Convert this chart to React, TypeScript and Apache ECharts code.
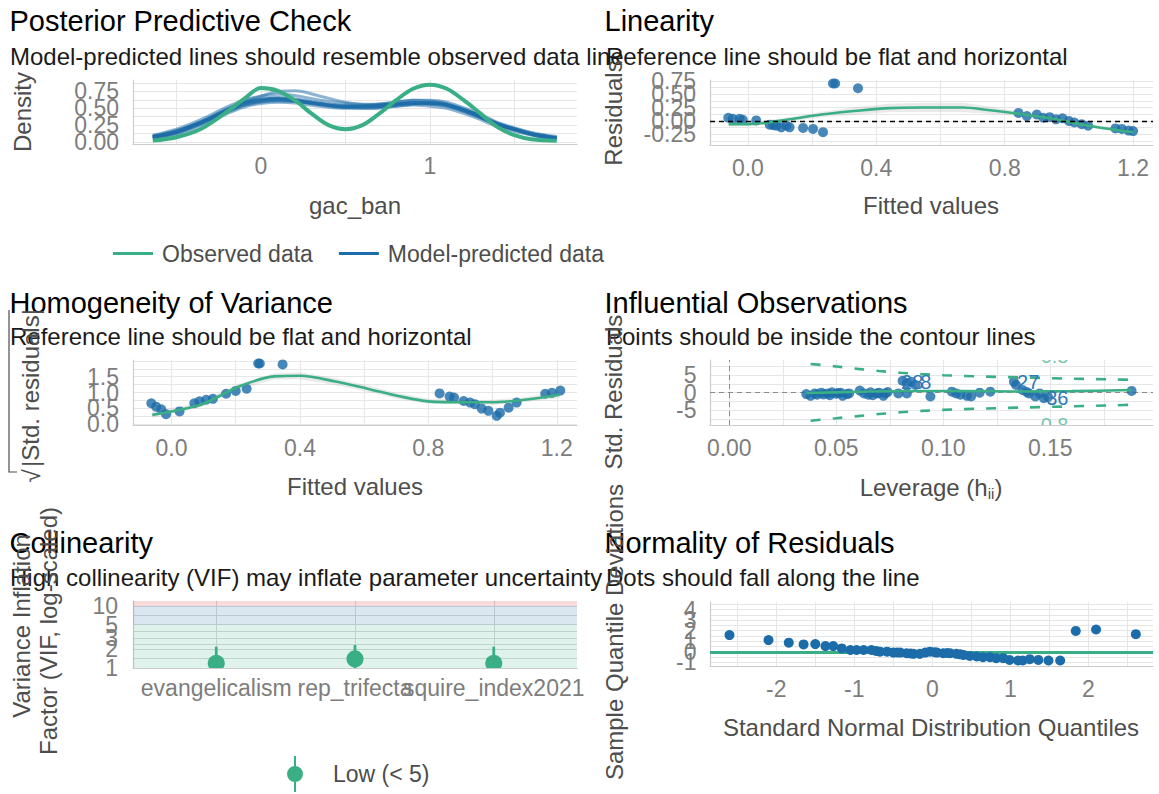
import React, { useEffect, useRef } from 'react';
import * as echarts from 'echarts';

const FONT = "'Liberation Sans', Arial, Helvetica, sans-serif";
const BLUE = '#1b6ca8';
const GREEN = '#3aaf85';
const TICK_COLOR = '#7d7d7d';
const AXIS_TITLE = '#4d4d4d';
const GRID_COLOR = '#e6e6e6';

// ---------- Posterior predictive check ----------
const ppcObsX = [-0.64, -0.5, -0.35, -0.2, -0.1, 0, 0.1, 0.2, 0.3, 0.4, 0.5, 0.6, 0.7, 0.8, 0.9, 1.0, 1.1, 1.2, 1.3, 1.4, 1.5, 1.6, 1.75];
const ppcObsDensity = [0.02, 0.07, 0.2, 0.45, 0.64, 0.8, 0.76, 0.62, 0.42, 0.25, 0.19, 0.25, 0.42, 0.62, 0.79, 0.85, 0.79, 0.62, 0.42, 0.22, 0.1, 0.04, 0.02];
const ppcSimX = [-0.64, -0.5, -0.35, -0.2, -0.1, 0, 0.1, 0.2, 0.35, 0.5, 0.65, 0.8, 0.9, 1.0, 1.1, 1.25, 1.4, 1.5, 1.62, 1.75];
const ppcSimDraws = [
  [0.10, 0.19, 0.34, 0.52, 0.62, 0.68, 0.71, 0.69, 0.62, 0.57, 0.56, 0.59, 0.62, 0.62, 0.59, 0.46, 0.29, 0.21, 0.13, 0.08],
  [0.05, 0.11, 0.25, 0.42, 0.52, 0.57, 0.59, 0.58, 0.53, 0.50, 0.50, 0.53, 0.55, 0.53, 0.50, 0.38, 0.23, 0.16, 0.09, 0.04],
  [0.08, 0.16, 0.31, 0.49, 0.59, 0.64, 0.66, 0.64, 0.58, 0.54, 0.53, 0.56, 0.58, 0.58, 0.55, 0.43, 0.27, 0.19, 0.11, 0.06],
  [0.06, 0.13, 0.28, 0.45, 0.55, 0.60, 0.62, 0.61, 0.56, 0.53, 0.54, 0.57, 0.59, 0.57, 0.54, 0.41, 0.25, 0.18, 0.10, 0.05],
  [0.09, 0.17, 0.30, 0.47, 0.58, 0.63, 0.65, 0.63, 0.57, 0.52, 0.52, 0.55, 0.57, 0.57, 0.55, 0.43, 0.26, 0.18, 0.10, 0.05],
  [0.07, 0.15, 0.30, 0.48, 0.60, 0.68, 0.75, 0.76, 0.68, 0.59, 0.55, 0.56, 0.57, 0.56, 0.53, 0.41, 0.26, 0.19, 0.11, 0.06],
  [0.08, 0.14, 0.27, 0.44, 0.54, 0.59, 0.61, 0.60, 0.56, 0.52, 0.55, 0.59, 0.62, 0.61, 0.57, 0.44, 0.27, 0.19, 0.11, 0.06],
  [0.06, 0.14, 0.29, 0.48, 0.58, 0.63, 0.64, 0.61, 0.55, 0.51, 0.50, 0.53, 0.56, 0.57, 0.55, 0.44, 0.28, 0.20, 0.12, 0.07],
  [0.07, 0.15, 0.29, 0.46, 0.56, 0.61, 0.63, 0.62, 0.57, 0.53, 0.52, 0.55, 0.58, 0.59, 0.56, 0.42, 0.26, 0.18, 0.10, 0.05],
  [0.08, 0.16, 0.30, 0.47, 0.57, 0.62, 0.64, 0.62, 0.56, 0.52, 0.53, 0.56, 0.58, 0.58, 0.55, 0.43, 0.27, 0.19, 0.11, 0.06],
];
const ppcXLines = [-0.5, 0, 0.5, 1, 1.5];
const ppcXTicks = [0, 1];
const ppcYLines = [0, 0.125, 0.25, 0.375, 0.5, 0.625, 0.75, 0.875];
const ppcYTicks = [0, 0.25, 0.5, 0.75];

// ---------- Linearity ----------
const linFitted = [-0.061, -0.047, -0.026, -0.016, 0.026, 0.068, 0.079, 0.089, 0.104, 0.12, 0.13, 0.172, 0.203, 0.234, 0.265, 0.272, 0.343, 0.843, 0.869, 0.9, 0.92, 0.94, 0.96, 0.98, 1.0, 1.017, 1.04, 1.06, 1.145, 1.165, 1.186, 1.2];
const linResid = [0.06, 0.04, 0.04, 0.02, 0.01, -0.07, -0.08, -0.09, -0.12, -0.09, -0.12, -0.13, -0.15, -0.21, 0.7, 0.7, 0.61, 0.15, 0.09, 0.12, 0.06, 0.07, 0.03, 0.05, 0.0, -0.03, -0.06, -0.09, -0.14, -0.15, -0.18, -0.19];
const linSmoothX = [-0.06, 0.03, 0.13, 0.23, 0.34, 0.44, 0.54, 0.67, 0.74, 0.85, 0.96, 1.06, 1.2];
const linSmoothY = [-0.06, -0.05, 0.03, 0.12, 0.19, 0.24, 0.25, 0.25, 0.21, 0.13, 0.03, -0.09, -0.21];
const linSmoothLo = [-0.11, -0.09, -0.01, 0.07, 0.12, 0.16, 0.16, 0.16, 0.14, 0.09, 0.0, -0.12, -0.26];
const linSmoothHi = [-0.01, -0.01, 0.07, 0.17, 0.26, 0.32, 0.34, 0.34, 0.28, 0.17, 0.06, -0.06, -0.16];
const fittedLines = [0, 0.2, 0.4, 0.6, 0.8, 1.0, 1.2];
const fittedTicks = [0, 0.4, 0.8, 1.2];
const residLines = [-0.375, -0.25, -0.125, 0, 0.125, 0.25, 0.375, 0.5, 0.625, 0.75];
const residTicks = [-0.25, 0, 0.25, 0.5, 0.75];

// ---------- Homogeneity of variance ----------
const homFitted = [-0.063, -0.048, -0.032, -0.017, 0.025, 0.071, 0.087, 0.108, 0.129, 0.17, 0.2, 0.234, 0.27, 0.275, 0.346, 0.835, 0.866, 0.88, 0.91, 0.93, 0.945, 0.966, 0.987, 1.013, 1.023, 1.05, 1.075, 1.164, 1.185, 1.211];
const homSqrtRes = [0.66, 0.55, 0.47, 0.31, 0.4, 0.66, 0.72, 0.77, 0.8, 0.96, 1.05, 1.12, 1.92, 1.92, 1.89, 0.97, 0.87, 0.84, 0.73, 0.68, 0.63, 0.49, 0.42, 0.26, 0.36, 0.52, 0.68, 0.96, 0.99, 1.06];
const homSmoothX = [-0.06, 0.09, 0.21, 0.32, 0.4, 0.51, 0.61, 0.71, 0.8, 0.92, 1.0, 1.1, 1.21];
const homSmoothY = [0.29, 0.61, 1.19, 1.51, 1.53, 1.35, 1.12, 0.88, 0.72, 0.69, 0.69, 0.77, 0.93];
const homSmoothLo = [0.19, 0.53, 1.1, 1.41, 1.42, 1.24, 1.02, 0.79, 0.64, 0.62, 0.61, 0.69, 0.83];
const homSmoothHi = [0.39, 0.69, 1.28, 1.61, 1.64, 1.46, 1.22, 0.97, 0.8, 0.76, 0.77, 0.85, 1.03];
const sqrtResLines = [0, 0.25, 0.5, 0.75, 1, 1.25, 1.5, 1.75, 2];
const sqrtResTicks = [0, 0.5, 1, 1.5];

// ---------- Influential observations ----------
const infLeverage = [0.036, 0.038, 0.040, 0.041, 0.043, 0.044, 0.046, 0.047, 0.048, 0.050, 0.051, 0.052, 0.053, 0.055, 0.056, 0.061, 0.063, 0.065, 0.066, 0.067, 0.069, 0.070, 0.072, 0.073, 0.074, 0.079, 0.081, 0.083, 0.083, 0.085, 0.087, 0.094, 0.104, 0.106, 0.108, 0.111, 0.113, 0.117, 0.122, 0.133, 0.134, 0.137, 0.139, 0.140, 0.143, 0.145, 0.147, 0.149, 0.188];
const infStdRes = [-0.4, -0.9, -0.2, -0.6, 0.0, -0.5, -0.2, -0.7, 0.1, -0.3, -0.1, 0.0, -0.9, -0.4, -0.2, 0.6, -0.2, -0.6, 0.1, -0.7, -0.2, 0.0, -0.9, -0.2, 0.2, -0.2, 3.4, 2.7, -0.2, 3.1, 2.2, -1.1, 0.3, -0.2, -0.6, -0.9, -1.1, 0.0, 0.3, 3.1, 2.2, 0.8, 0.2, -0.2, -1.1, -0.2, -1.6, -1.2, 0.5];
const infSmoothX = [0.036, 0.06, 0.083, 0.11, 0.134, 0.16, 0.188];
const infSmoothY = [-0.1, 0.25, 0.5, 0.45, 0.35, 0.45, 0.75];
const cookLev = [0.038, 0.05, 0.06, 0.07, 0.08, 0.09, 0.10, 0.12, 0.14, 0.16, 0.18, 0.19];
const cookUpper = [8.2, 7.5, 6.8, 6.2, 5.7, 5.3, 5.0, 4.6, 4.3, 4.0, 3.8, 3.6];
const cookLower = [-8.0, -7.3, -6.7, -6.1, -5.6, -5.2, -4.9, -4.5, -4.2, -3.9, -3.6, -3.4];
const cookLabelLev = [0.152, 0.152];
const cookLabelRes = [10.5, -9.3];
const cookLabelText = ['0.8', '0.8'];
const outlierIds = ['28', '8', '27', '36'];
const outlierLev = [0.0855, 0.0918, 0.1397, 0.1533];
const outlierRes = [3.06, 3.06, 3.14, -1.6];
const levLines = [0, 0.025, 0.05, 0.075, 0.1, 0.125, 0.15, 0.175];
const levTicks = [0, 0.05, 0.1, 0.15];
const stdResLines = [-7.5, -5, -2.5, 0, 2.5, 5, 7.5];
const stdResTicks = [-5, 0, 5];

// ---------- Collinearity ----------
const vifTerms = ['evangelicalism', 'rep_trifecta', 'squire_index2021'];
const vifValue = [1.19, 1.4, 1.19];
const vifLow = [1.0, 1.0, 1.0];
const vifHigh = [2.21, 2.35, 2.21];
const vifZoneEdges = [1, 5, 10, 12.05];
const vifLines = [1.414, 2, 2.449, 3, 3.873, 5, 7.071, 10];
const vifTicks = [1, 2, 3, 5, 10];

// ---------- Normality of residuals (detrended QQ) ----------
const qqTheoretical = [-2.6, -2.1, -1.84, -1.65, -1.5, -1.37, -1.27, -1.16, -1.05, -0.97, -0.88, -0.78, -0.72, -0.67, -0.58, -0.5, -0.45, -0.41, -0.33, -0.28, -0.24, -0.16, -0.09, -0.03, 0.03, 0.06, 0.14, 0.19, 0.23, 0.31, 0.36, 0.4, 0.48, 0.57, 0.65, 0.74, 0.82, 0.91, 0.99, 1.1, 1.16, 1.25, 1.36, 1.49, 1.64, 1.84, 2.1, 2.61];
const qqDeviation = [1.58, 1.11, 0.86, 0.7, 0.73, 0.54, 0.54, 0.32, 0.17, 0.17, 0.17, 0.17, 0.08, 0.01, 0.01, -0.08, -0.06, -0.08, -0.14, -0.16, -0.2, -0.2, -0.08, 0.01, -0.05, -0.08, -0.14, -0.12, -0.14, -0.2, -0.24, -0.3, -0.39, -0.45, -0.51, -0.51, -0.61, -0.61, -0.77, -0.83, -0.83, -0.7, -0.77, -0.83, -0.83, 1.98, 2.11, 1.67];
const qqXLines = [-2.5, -2, -1.5, -1, -0.5, 0, 0.5, 1, 1.5, 2, 2.5];
const qqXTicks = [-2, -1, 0, 1, 2];
const qqYLines = [-1, -0.5, 0, 0.5, 1, 1.5, 2, 2.5, 3, 3.5, 4, 4.5];
const qqYTicks = [-1, 0, 1, 2, 3, 4];

// Axis limits of the six panels
const panelX = [[-0.757, 1.87], [-0.118, 1.262], [-0.12, 1.263], [-0.009, 0.198], [-0.6, 2.6], [-2.85, 2.83]];
const panelY = [[-0.03, 0.92], [-0.45, 0.765], [-0.03, 2.03], [-9.23, 9.34], [0, Math.log10(12.05)], [-1.35, 4.72]];

const pairs = (xs: number[], ys: number[]) => xs.map((x, i) => [x, ys[i]]);
const log10 = (v: number) => Math.log10(v);

function valueAxis(gridIndex: number, range: number[], lines: number[], gridColor = GRID_COLOR) {
  return {
    type: 'value',
    gridIndex,
    min: range[0],
    max: range[1],
    axisLine: { show: true, onZero: false, lineStyle: { color: '#cccccc', width: 1.2 } },
    axisTick: { show: false, customValues: lines },
    splitLine: { show: true, lineStyle: { color: gridColor, width: 1 } },
    minorSplitLine: { show: false },
    axisLabel: { show: false },
  };
}

// Tick labels are placed through each panel's scale so overlapping labels all stay visible.
function tickLabels(idx: number, values: number[], fmt: (v: number) => string, isY: boolean, offset: number) {
  return {
    type: 'custom',
    xAxisIndex: idx,
    yAxisIndex: idx,
    silent: true,
    clip: false,
    z: 8,
    data: values.map((v) => (isY ? [panelX[idx][0], v] : [v, panelY[idx][0]])),
    renderItem: (_p: any, api: any) => {
      const pt = api.coord([api.value(0), api.value(1)]);
      const v = isY ? api.value(1) : api.value(0);
      return {
        type: 'text',
        x: isY ? pt[0] - offset : pt[0],
        y: isY ? pt[1] : pt[1] + offset,
        style: {
          text: fmt(v),
          font: `23px ${FONT}`,
          fill: TICK_COLOR,
          align: isY ? 'right' : 'center',
          verticalAlign: 'middle',
          textAlign: isY ? 'right' : 'center',
          textVerticalAlign: 'middle',
        },
      };
    },
  };
}

function ribbon(idx: number, xs: number[], lo: number[], hi: number[], fill: string) {
  return {
    type: 'custom',
    xAxisIndex: idx,
    yAxisIndex: idx,
    silent: true,
    clip: true,
    z: 1,
    data: [[xs[0], lo[0]]],
    renderItem: (_p: any, api: any) => {
      const top = xs.map((x, i) => api.coord([x, hi[i]]));
      const bottom = xs.map((x, i) => api.coord([x, lo[i]])).reverse();
      return { type: 'polygon', shape: { points: top.concat(bottom) }, style: { fill } };
    },
  };
}

function textLabels(idx: number, xs: number[], ys: number[], texts: string[], size: number, color: string, opacity: number, clip: boolean) {
  return {
    type: 'custom',
    xAxisIndex: idx,
    yAxisIndex: idx,
    silent: true,
    clip,
    z: 6,
    data: xs.map((x, i) => [x, ys[i], i]),
    renderItem: (_p: any, api: any) => {
      const pt = api.coord([api.value(0), api.value(1)]);
      return {
        type: 'text',
        x: pt[0],
        y: pt[1],
        style: {
          text: texts[api.value(2)],
          font: `${size}px ${FONT}`,
          fill: color,
          opacity,
          align: 'center',
          verticalAlign: 'middle',
          textAlign: 'center',
          textVerticalAlign: 'middle',
        },
      };
    },
  };
}

function label(text: string, x: number, y: number, size: number, color: string, align: string, rotate = false, extra: any = {}) {
  return {
    type: 'text',
    x,
    y,
    rotation: rotate ? Math.PI / 2 : 0,
    silent: true,
    z: 100,
    style: {
      text,
      font: `${size}px ${FONT}`,
      fill: color,
      align,
      verticalAlign: 'middle',
      textAlign: align,
      textVerticalAlign: 'middle',
      ...extra,
    },
  };
}

function buildOption() {
  const grids = [
    { left: 133, top: 80, width: 444, height: 64 },
    { left: 710, top: 80, width: 443, height: 65 },
    { left: 133, top: 360, width: 444, height: 65 },
    { left: 710, top: 360, width: 443, height: 65 },
    { left: 133, top: 601, width: 444, height: 67 },
    { left: 710, top: 602, width: 443, height: 64 },
  ].map((g) => ({ ...g, show: false, containLabel: false, outerBoundsMode: 'none' }));

  const f0 = (v: number) => String(Math.round(v));
  const f1 = (v: number) => v.toFixed(1);
  const f2 = (v: number) => v.toFixed(2);

  const xAxis = [
    valueAxis(0, panelX[0], ppcXLines),
    valueAxis(1, panelX[1], fittedLines),
    valueAxis(2, panelX[2], fittedLines),
    valueAxis(3, panelX[3], levLines),
    valueAxis(4, panelX[4], [0, 1, 2], '#d9d9d9'),
    valueAxis(5, panelX[5], qqXLines),
  ];
  const yAxis = [
    valueAxis(0, panelY[0], ppcYLines),
    valueAxis(1, panelY[1], residLines),
    valueAxis(2, panelY[2], sqrtResLines),
    valueAxis(3, panelY[3], stdResLines),
    valueAxis(4, panelY[4], vifLines.map(log10), '#d9d9d9'),
    valueAxis(5, panelY[5], qqYLines),
  ];

  const series: any[] = [];

  // 1. Posterior predictive check
  ppcSimDraws.forEach((draw) => {
    series.push({
      type: 'line',
      name: 'Model-predicted data',
      xAxisIndex: 0,
      yAxisIndex: 0,
      data: pairs(ppcSimX, draw),
      smooth: 0.35,
      showSymbol: false,
      silent: true,
      color: BLUE,
      lineStyle: { color: BLUE, width: 3, opacity: 0.5 },
      z: 2,
    });
  });
  series.push({
    type: 'line',
    name: 'Observed data',
    xAxisIndex: 0,
    yAxisIndex: 0,
    data: pairs(ppcObsX, ppcObsDensity),
    smooth: 0.35,
    showSymbol: false,
    silent: true,
    color: GREEN,
    lineStyle: { color: GREEN, width: 4 },
    z: 3,
  });
  series.push(tickLabels(0, ppcXTicks, f0, false, 22));
  series.push(tickLabels(0, ppcYTicks, f2, true, 14));

  // 2. Linearity
  series.push(ribbon(1, linSmoothX, linSmoothLo, linSmoothHi, 'rgba(150,150,150,0.2)'));
  series.push({
    type: 'scatter',
    xAxisIndex: 1,
    yAxisIndex: 1,
    data: pairs(linFitted, linResid),
    symbolSize: 10,
    silent: true,
    itemStyle: { color: BLUE, opacity: 0.8 },
    z: 2,
  });
  series.push({
    type: 'line',
    xAxisIndex: 1,
    yAxisIndex: 1,
    data: pairs(linSmoothX, linSmoothY),
    smooth: 0.3,
    showSymbol: false,
    silent: true,
    lineStyle: { color: GREEN, width: 2.6 },
    z: 3,
    markLine: {
      silent: true,
      symbol: 'none',
      label: { show: false },
      lineStyle: { color: '#000', type: [5, 4], width: 1.3 },
      data: [{ yAxis: 0 }],
    },
  });
  series.push(tickLabels(1, fittedTicks, f1, false, 23));
  series.push(tickLabels(1, residTicks, f2, true, 14));

  // 3. Homogeneity of variance
  series.push(ribbon(2, homSmoothX, homSmoothLo, homSmoothHi, 'rgba(150,150,150,0.2)'));
  series.push({
    type: 'scatter',
    xAxisIndex: 2,
    yAxisIndex: 2,
    data: pairs(homFitted, homSqrtRes),
    symbolSize: 10,
    silent: true,
    itemStyle: { color: BLUE, opacity: 0.8 },
    z: 2,
  });
  series.push({
    type: 'line',
    xAxisIndex: 2,
    yAxisIndex: 2,
    data: pairs(homSmoothX, homSmoothY),
    smooth: 0.3,
    showSymbol: false,
    silent: true,
    lineStyle: { color: GREEN, width: 2.6 },
    z: 3,
  });
  series.push(tickLabels(2, fittedTicks, f1, false, 22.5));
  series.push(tickLabels(2, sqrtResTicks, f1, true, 14));

  // 4. Influential observations
  [cookUpper, cookLower].forEach((vals) => {
    series.push({
      type: 'line',
      xAxisIndex: 3,
      yAxisIndex: 3,
      data: pairs(cookLev, vals),
      smooth: 0.3,
      showSymbol: false,
      silent: true,
      lineStyle: { color: GREEN, width: 2.6, type: [10, 12] },
      z: 3,
    });
  });
  series.push({
    type: 'scatter',
    xAxisIndex: 3,
    yAxisIndex: 3,
    data: pairs(infLeverage, infStdRes),
    symbolSize: 10,
    silent: true,
    itemStyle: { color: BLUE, opacity: 0.8 },
    z: 2,
    markLine: {
      silent: true,
      z: 1,
      symbol: 'none',
      label: { show: false },
      lineStyle: { color: '#8c8c8c', type: [5, 4], width: 1 },
      data: [{ xAxis: 0 }, { yAxis: 0 }],
    },
  });
  series.push({
    type: 'line',
    xAxisIndex: 3,
    yAxisIndex: 3,
    data: pairs(infSmoothX, infSmoothY),
    smooth: 0.3,
    showSymbol: false,
    silent: true,
    lineStyle: { color: GREEN, width: 2.6 },
    z: 4,
  });
  series.push(textLabels(3, outlierLev, outlierRes, outlierIds, 20, '#2f78b8', 1, false));
  series.push(textLabels(3, cookLabelLev, cookLabelRes, cookLabelText, 20, GREEN, 0.7, true));
  series.push(tickLabels(3, levTicks, f2, false, 23));
  series.push(tickLabels(3, stdResTicks, f0, true, 13.5));

  // 5. Collinearity
  series.push({
    type: 'scatter',
    xAxisIndex: 4,
    yAxisIndex: 4,
    data: [[0, 0.5]],
    symbolSize: 0,
    silent: true,
    itemStyle: { opacity: 0 },
    z: 1,
    markArea: {
      silent: true,
      data: [
        [{ yAxis: log10(vifZoneEdges[0]), itemStyle: { color: 'rgba(58,175,133,0.16)' } }, { yAxis: log10(vifZoneEdges[1]) }],
        [{ yAxis: log10(vifZoneEdges[1]), itemStyle: { color: 'rgba(27,108,168,0.16)' } }, { yAxis: log10(vifZoneEdges[2]) }],
        [{ yAxis: log10(vifZoneEdges[2]), itemStyle: { color: 'rgba(205,32,31,0.16)' } }, { yAxis: log10(vifZoneEdges[3]) }],
      ],
    },
  });
  series.push({
    type: 'custom',
    name: 'Low (< 5)',
    xAxisIndex: 4,
    yAxisIndex: 4,
    clip: true,
    silent: true,
    z: 3,
    itemStyle: { color: GREEN },
    encode: { x: 0, y: 1 },
    data: vifTerms.map((_t, i) => [i, log10(vifValue[i]), log10(vifLow[i]), log10(vifHigh[i])]),
    renderItem: (params: any, api: any) => {
      const c = api.coord([api.value(0), api.value(1)]);
      const lo = api.coord([api.value(0), api.value(2)]);
      const hi = api.coord([api.value(0), api.value(3)]);
      const cs = params.coordSys;
      const bottom = cs.y + cs.height;
      // dot outline, cut off at the bottom of the panel
      const r = 8.5;
      const dot: number[][] = [];
      for (let k = 0; k < 40; k++) {
        const a = (k / 40) * Math.PI * 2;
        dot.push([c[0] + r * Math.cos(a), Math.min(c[1] + r * Math.sin(a), bottom)]);
      }
      return {
        type: 'group',
        children: [
          { type: 'line', shape: { x1: lo[0], y1: Math.min(lo[1], bottom), x2: hi[0], y2: hi[1] }, style: { stroke: GREEN, lineWidth: 2.8 } },
          { type: 'polygon', shape: { points: dot }, style: { fill: GREEN } },
        ],
      };
    },
  });
  series.push(tickLabels(4, [0, 1, 2], (v: number) => vifTerms[Math.round(v)] ?? '', false, 20));
  series.push(tickLabels(4, vifTicks.map(log10), (v: number) => String(Math.round(Math.pow(10, v))), true, 15));

  // 6. Normality of residuals
  series.push({
    type: 'scatter',
    xAxisIndex: 5,
    yAxisIndex: 5,
    data: pairs(qqTheoretical, qqDeviation),
    symbolSize: 10,
    silent: true,
    itemStyle: { color: BLUE, opacity: 1 },
    z: 2,
    markLine: {
      silent: true,
      z: 1,
      symbol: 'none',
      label: { show: false },
      lineStyle: { color: GREEN, type: 'solid', width: 3 },
      data: [{ yAxis: 0 }],
    },
  });
  series.push(tickLabels(5, qqXTicks, f0, false, 22.5));
  series.push(tickLabels(5, qqYTicks, f0, true, 13.5));

  const legendText = { fontSize: 23, fontFamily: FONT, color: AXIS_TITLE };
  const TS = 29; // title size
  const SS = 24; // subtitle size
  const AS = 24; // axis title size

  const graphic: any[] = [
    // panel 1
    label('Posterior Predictive Check', 9.5, 21, TS, '#000', 'left'),
    label('Model-predicted lines should resemble observed data line', 10, 56, SS, '#1a1a1a', 'left'),
    label('Density', 22, 112, AS, AXIS_TITLE, 'center', true),
    label('gac_ban', 355, 205, AS, AXIS_TITLE, 'center'),
    // panel 2
    label('Linearity', 604.5, 21, TS, '#000', 'left'),
    label('Reference line should be flat and horizontal', 606, 56, SS, '#1a1a1a', 'left'),
    label('Residuals', 613, 113, AS, AXIS_TITLE, 'center', true),
    label('Fitted values', 931, 205, AS, AXIS_TITLE, 'center'),
    // panel 3
    label('Homogeneity of Variance', 9.5, 303, TS, '#000', 'left'),
    label('Reference line should be flat and horizontal', 10, 336, SS, '#1a1a1a', 'left'),
    label('|Std. residuals|', 30, 388, AS, AXIS_TITLE, 'center', true),
    label('\u221A', 31, 476, AS, AXIS_TITLE, 'center', true),
    {
      type: 'polyline',
      silent: true,
      z: 100,
      shape: { points: [[9, 310], [9, 472], [17, 472]] },
      style: { stroke: AXIS_TITLE, lineWidth: 1.2, fill: null },
    },
    label('Fitted values', 355, 486, AS, AXIS_TITLE, 'center'),
    // panel 4
    label('Influential Observations', 604.5, 303, TS, '#000', 'left'),
    label('Points should be inside the contour lines', 606, 336, SS, '#1a1a1a', 'left'),
    label('Std. Residuals', 613, 392, AS, AXIS_TITLE, 'center', true),
    label('Leverage (h{sub|ii})', 931, 487, AS, AXIS_TITLE, 'center', false, {
      rich: { sub: { fontSize: 15, fontFamily: FONT, fill: AXIS_TITLE, color: AXIS_TITLE, padding: [12, 0, 0, 0] } },
    }),
    // panel 5
    label('Collinearity', 9.5, 543, TS, '#000', 'left'),
    label('High collinearity (VIF) may inflate parameter uncertainty', 10, 577, SS, '#1a1a1a', 'left'),
    label('Variance Inflation', 21, 626, AS, AXIS_TITLE, 'center', true),
    label('Factor (VIF, log-scaled)', 48, 631, AS, AXIS_TITLE, 'center', true),
    // panel 6
    label('Normality of Residuals', 604.5, 543, TS, '#000', 'left'),
    label('Dots should fall along the line', 606, 577, SS, '#1a1a1a', 'left'),
    label('Sample Quantile Deviations', 614, 632, AS, AXIS_TITLE, 'center', true),
    label('Standard Normal Distribution Quantiles', 931, 727, AS, AXIS_TITLE, 'center'),
  ];

  return {
    animation: false,
    backgroundColor: '#ffffff',
    grid: grids,
    xAxis,
    yAxis,
    series,
    graphic,
    legend: [
      {
        left: 108,
        top: 237,
        orient: 'horizontal',
        selectedMode: false,
        itemWidth: 40,
        itemHeight: 3,
        itemGap: 26,
        icon: 'rect',
        data: [
          { name: 'Observed data', itemStyle: { color: GREEN, opacity: 1 } },
          { name: 'Model-predicted data', itemStyle: { color: BLUE, opacity: 1 } },
        ],
        lineStyle: { width: 0, opacity: 0 },
        textStyle: { ...legendText, padding: [0, 0, 0, 4] },
      },
      {
        left: 282,
        top: 751,
        selectedMode: false,
        itemWidth: 16,
        itemHeight: 36,
        data: [
          {
            name: 'Low (< 5)',
            icon: 'path://M7,0 L9,0 L9,36 L7,36 Z M0,18 A8,8 0 1,1 16,18 A8,8 0 1,1 0,18 Z',
            itemStyle: { color: GREEN, opacity: 1 },
          },
        ],
        textStyle: { ...legendText, padding: [0, 0, 0, 25] },
      },
    ],
  };
}

export default function App() {
  const ref = useRef<HTMLDivElement>(null);

  useEffect(() => {
    if (!ref.current) return;
    const chart = echarts.init(ref.current, undefined, { renderer: 'svg' });
    chart.setOption(buildOption() as any);
    return () => chart.dispose();
  }, []);

  return (
    <div
      ref={ref}
      style={{ position: 'fixed', left: 0, top: 0, width: 1159, height: 794, background: '#ffffff' }}
    />
  );
}
